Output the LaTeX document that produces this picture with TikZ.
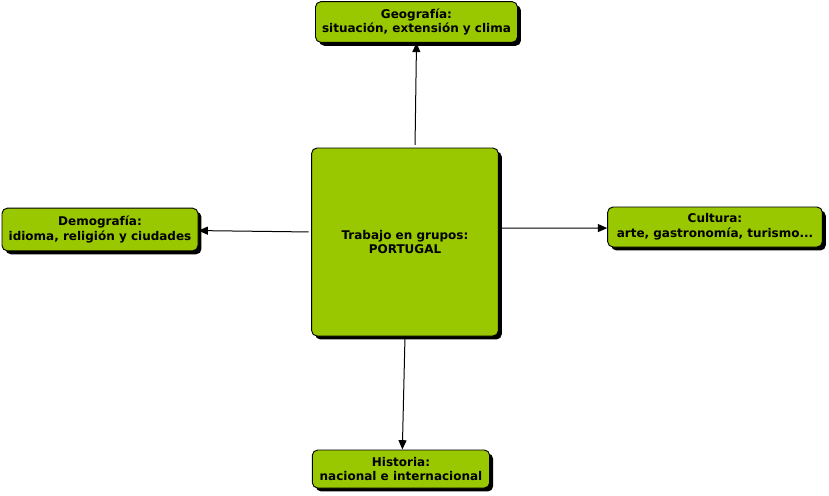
\documentclass[tikz,border=0pt]{standalone}
\usepackage{fontspec}
\setmainfont{DejaVu Sans}
\usetikzlibrary{arrows.meta,shadows}
\definecolor{topicgreen}{HTML}{99C700}

\begin{document}
\begin{tikzpicture}[
    x=0.75pt, y=-0.75pt,
    topic/.style={draw=black, fill=topicgreen, rounded corners=4pt,
        line width=0.7pt, align=center, inner sep=0pt,
        font=\fontsize{9}{11.2}\selectfont\bfseries,
        drop shadow={shadow xshift=2.6pt, shadow yshift=-2.6pt, fill=black, opacity=1}},
    link/.style={-{Triangle[length=7pt,width=6pt]}, line width=0.75pt, shorten <=2pt}
    ]
    \useasboundingbox (0,0) rectangle (829,496);

    \node[topic, minimum width=140pt, minimum height=141pt] (work) at (405,242) {Trabajo en grupos:\\PORTUGAL};
    \node[topic, minimum width=151.5pt, minimum height=30.5pt] (geo) at (416.5,22) {Geografía:\\situación, extensión y clima};
    \node[topic, minimum width=147pt, minimum height=32pt] (demo) at (100,229.5) {Demografía:\\idioma, religión y ciudades};
    \node[topic, minimum width=161pt, minimum height=30pt] (cult) at (715,227) {Cultura:\\arte, gastronomía, turismo...};
    \node[topic, minimum width=133pt, minimum height=28.5pt] (hist) at (401,469) {Historia:\\nacional e internacional};

    \draw[link] ([xshift=7.5pt]work.north) -- (geo.south);
    \draw[link] ([yshift=7.5pt]work.west) -- ([yshift=-0.8pt]demo.east);
    \draw[link] ([yshift=10.5pt]work.east) -- ([yshift=-0.8pt]cult.west);
    \draw[link] (work.south) -- ([xshift=1pt]hist.north);

\end{tikzpicture}
\end{document}
